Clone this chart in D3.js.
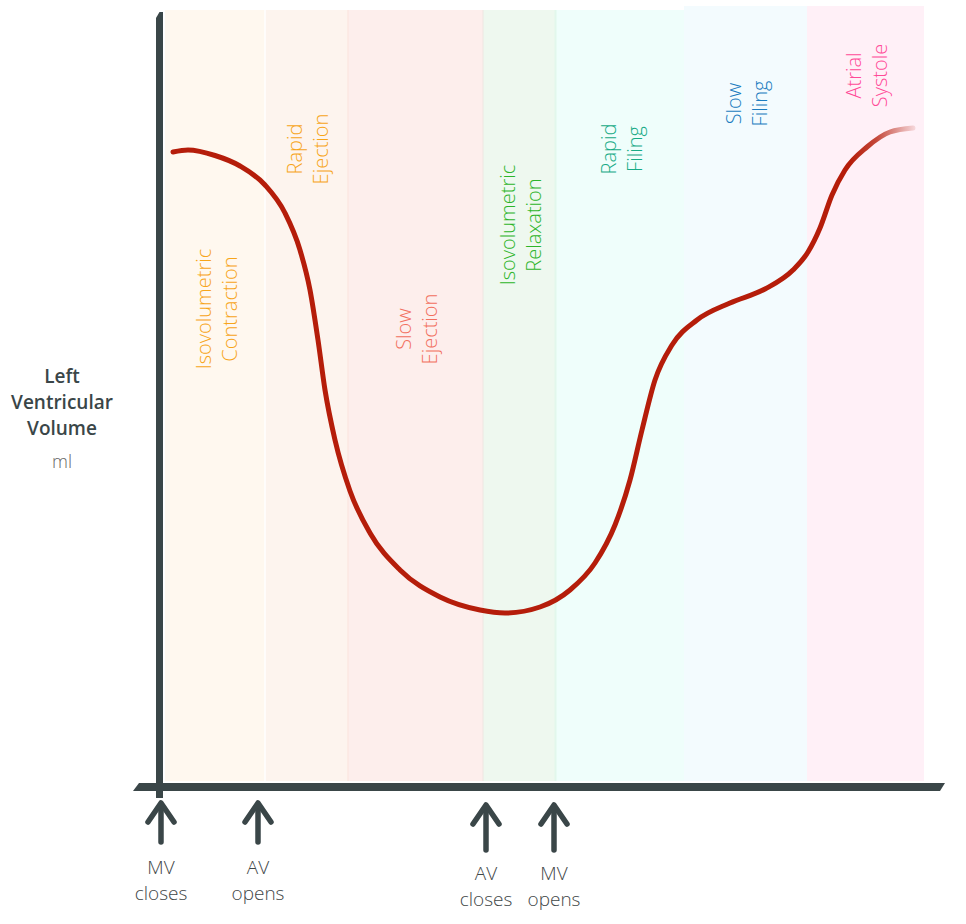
<!DOCTYPE html>
<html>
<head>
<meta charset="utf-8">
<script src="https://cdn.jsdelivr.net/npm/d3@7"></script>
<style>
  body { margin: 0; background: #fff; }
  svg { display: block; font-family: "Open Sans", "Noto Sans", sans-serif; }
</style>
</head>
<body>
<svg width="966" height="924"></svg>
<script>
// cardiac cycle phases (time in ms from MV closure)
const phaseNames = [
  ["Isovolumetric", "Contraction"],
  ["Rapid", "Ejection"],
  ["Slow", "Ejection"],
  ["Isovolumetric", "Relaxation"],
  ["Rapid", "Filing"],
  ["Slow", "Filing"],
  ["Atrial", "Systole"]
];
const phaseStart = [5, 105, 188, 323, 396, 524, 647];
const phaseEnd = [105, 188, 323, 396, 524, 647, 764];

// left ventricular volume curve (ms, ml)
const curveTime = [13, 28, 55, 80, 105, 125, 140, 150, 158, 165, 175, 190, 210, 240, 280, 320, 345,
  380, 410, 435, 455, 470, 482, 495, 512, 537, 570, 605, 633, 648, 660, 672, 685, 707, 730, 753];
const curveVol = [127, 127.4, 126.3, 124.2, 120.4, 114.8, 107.4, 99.4, 89.4, 79.4, 69.4, 59.2, 50.8, 43.4, 38, 35.4, 34.8,
  36, 39.4, 44.8, 52.4, 61.4, 71.4, 81.4, 88.4, 93.4, 96.8, 99.6, 103.4, 107, 111.8, 118.4, 123.4, 128, 131, 131.8];

// valve events
const eventNames = [["MV", "closes"], ["AV", "opens"], ["AV", "closes"], ["MV", "opens"]];
const eventTime = [0, 97, 325, 393];

// styling
const phaseFill = ["#fff8ef", "#fdf4ee", "#fdeeec", "#eef8ef", "#effefb", "#f3fbfe", "#fff0f7"];
const phaseText = ["#f7a51a", "#f7a51a", "#f2705f", "#2db52a", "#17ab86", "#1a7cc0", "#ff4a97"];
const phaseTop = [155.4, 155.4, 155.4, 155.4, 155.4, 156.2, 156.2];
const labelY = [309, 149, 329, 225, 149, 103.5, 75.5];
const eventLow = [false, false, true, true];
const axisColor = "#3a4648";

const svg = d3.select("svg");

const x = d3.scaleLinear().domain([0, 780]).range([160, 940]);
const y = d3.scaleLinear().domain([0, 155]).range([787, 12]);

// phase bands
const g = svg.append("g");
phaseNames.forEach((names, i) => {
  g.append("rect")
    .attr("x", x(phaseStart[i]))
    .attr("y", y(phaseTop[i]))
    .attr("width", x(phaseEnd[i]) - x(phaseStart[i]))
    .attr("height", y(1.2) - y(phaseTop[i]))
    .attr("fill", phaseFill[i]);
});
// faint separators
g.append("line").attr("x1", x(105)).attr("x2", x(105)).attr("y1", y(155.4)).attr("y2", y(1.2))
  .attr("stroke", "#ffffff").attr("stroke-width", 1.5);
g.append("line").attr("x1", x(188)).attr("x2", x(188)).attr("y1", y(155.4)).attr("y2", y(1.2))
  .attr("stroke", "#fbe3dc").attr("stroke-width", 1);
g.append("line").attr("x1", x(323)).attr("x2", x(323)).attr("y1", y(155.4)).attr("y2", y(1.2))
  .attr("stroke", "#eee6e2").attr("stroke-width", 1);
g.append("line").attr("x1", x(395.5)).attr("x2", x(395.5)).attr("y1", y(155.4)).attr("y2", y(1.2))
  .attr("stroke", "#e2f7ec").attr("stroke-width", 2);

// phase labels
phaseNames.forEach((names, i) => {
  const cx = (x(phaseStart[i]) + x(phaseEnd[i])) / 2 + 1.5;
  const t = g.append("text")
    .attr("transform", "translate(" + (cx - 6) + "," + labelY[i] + ") rotate(-90)")
    .attr("text-anchor", "middle")
    .attr("font-size", "20px")
    .attr("font-weight", 300)
    .attr("fill", phaseText[i]);
  t.append("tspan").attr("x", 0).attr("dy", 0).text(names[0]);
  t.append("tspan").attr("x", 0).attr("dy", 26).text(names[1]);
});

// volume curve with fading end
const grad = svg.append("defs").append("linearGradient")
  .attr("id", "fade")
  .attr("gradientUnits", "userSpaceOnUse")
  .attr("x1", x(690)).attr("x2", x(755)).attr("y1", 0).attr("y2", 0);
grad.append("stop").attr("offset", "0").attr("stop-color", "#b51d0a").attr("stop-opacity", 1);
grad.append("stop").attr("offset", "0.4").attr("stop-color", "#b51d0a").attr("stop-opacity", 0.8);
grad.append("stop").attr("offset", "1").attr("stop-color", "#b51d0a").attr("stop-opacity", 0.12);

const line = d3.line()
  .x(i => x(curveTime[i]))
  .y(i => y(curveVol[i]))
  .curve(d3.curveMonotoneX);

g.append("path")
  .attr("d", line(d3.range(curveTime.length)))
  .attr("fill", "none")
  .attr("stroke", "url(#fade)")
  .attr("stroke-width", 5)
  .attr("stroke-linecap", "round");

// axes
const axes = svg.append("g").attr("fill", axisColor);
axes.append("path")
  .attr("d", "M" + (x(-4)) + "," + (y(155) + 6) + "L" + (x(-0.5)) + "," + y(155) + "L" + x(3) + "," + y(155)
    + "L" + x(3) + "," + (y(0) + 11) + "L" + x(-4) + "," + (y(0) + 11) + "Z");
axes.append("path")
  .attr("d", "M" + x(-27) + "," + (y(0) + 4) + "L" + x(-21) + "," + (y(0) - 4) + "L" + x(785) + "," + (y(0) - 4)
    + "L" + x(780) + "," + (y(0) + 4) + "Z");

// valve event arrows
eventNames.forEach((names, i) => {
  const ex = x(eventTime[i]) + 1;
  const top = eventLow[i] ? 805 : 803;
  const bottom = eventLow[i] ? 850 : 842;
  const a = svg.append("g")
    .attr("stroke", axisColor)
    .attr("stroke-width", 5.5)
    .attr("stroke-linecap", "round")
    .attr("stroke-linejoin", "round")
    .attr("fill", "none");
  a.append("line").attr("x1", ex).attr("x2", ex).attr("y1", top + 2).attr("y2", bottom);
  a.append("path").attr("d", "M" + (ex - 13) + "," + (top + 19) + "L" + ex + "," + top + "L" + (ex + 13) + "," + (top + 19));

  const base = eventLow[i] ? 880 : 874;
  const t = svg.append("text")
    .attr("text-anchor", "middle")
    .attr("font-size", "19px")
    .attr("font-weight", 300)
    .attr("fill", "#3f4748");
  t.append("tspan").attr("x", ex).attr("y", base).text(names[0]);
  t.append("tspan").attr("x", ex).attr("y", base + 26).text(names[1]);
});

// y-axis title
const yt = svg.append("text")
  .attr("text-anchor", "middle")
  .attr("font-size", "19px")
  .attr("font-weight", 600)
  .attr("fill", "#3a4648");
["Left", "Ventricular", "Volume"].forEach((s, i) => {
  yt.append("tspan").attr("x", 62).attr("y", 383 + i * 26).text(s);
});
svg.append("text")
  .attr("x", 62).attr("y", 468)
  .attr("text-anchor", "middle")
  .attr("font-size", "18px")
  .attr("font-weight", 300)
  .attr("fill", "#666")
  .text("ml");
</script>
</body>
</html>
